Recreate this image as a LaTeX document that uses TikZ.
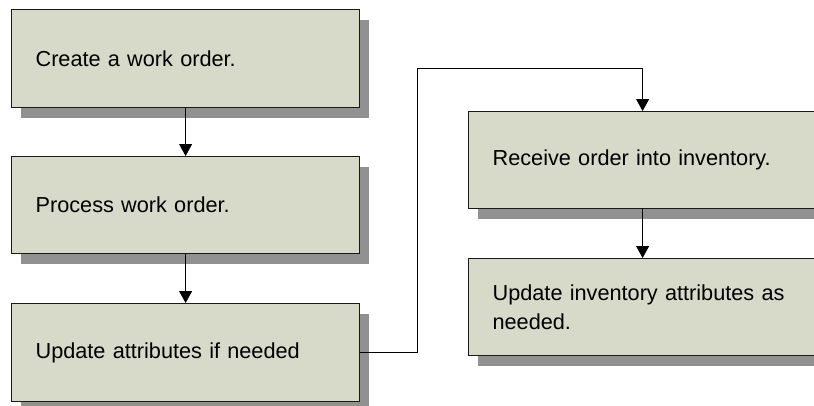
\documentclass[tikz,border=0pt]{standalone}
\usepackage{fontspec}
\setmainfont{Liberation Sans}
\usetikzlibrary{arrows.meta,shadows}
\definecolor{boxfill}{RGB}{215,217,201}
\definecolor{shadowgray}{RGB}{145,145,145}
\tikzset{
  stepbox/.style={draw=black!90, line width=1.2pt, fill=boxfill, anchor=north west,
    text width=300pt, inner xsep=24pt, inner ysep=0pt, align=left,
    font=\fontsize{21.7}{29}\selectfont,
    drop shadow={shadow xshift=9pt, shadow yshift=-10pt, fill=shadowgray, opacity=1}},
  flow/.style={line width=0.9pt, -{Triangle[length=12pt,width=13pt]}}
}
\begin{document}
\begin{tikzpicture}[x=1pt,y=-1pt]
\clip (0,0) rectangle (814,405);
\fill[white] (0,0) rectangle (814,405);
\node[stepbox, minimum height=98pt] (b1) at (11,9) {Create a work order.};
\node[stepbox, minimum height=97pt] (b2) at (11,156) {Process work order.};
\node[stepbox, minimum height=98pt] (b3) at (11,303) {Update attributes if needed};
\node[stepbox, minimum height=97pt] (b4) at (468,111) {Receive order into inventory.};
\node[stepbox, minimum height=97pt] (b5) at (468,258) {Update inventory attributes as\\needed.};
\coordinate (turn) at (417,68);
\draw[flow] (b1.south) -- (b2.north);
\draw[flow] (b2.south) -- (b3.north);
\draw[flow] (b3.east) -| (turn) -| (b4.north);
\draw[flow] (b4.south) -- (b5.north);
\end{tikzpicture}
\end{document}
